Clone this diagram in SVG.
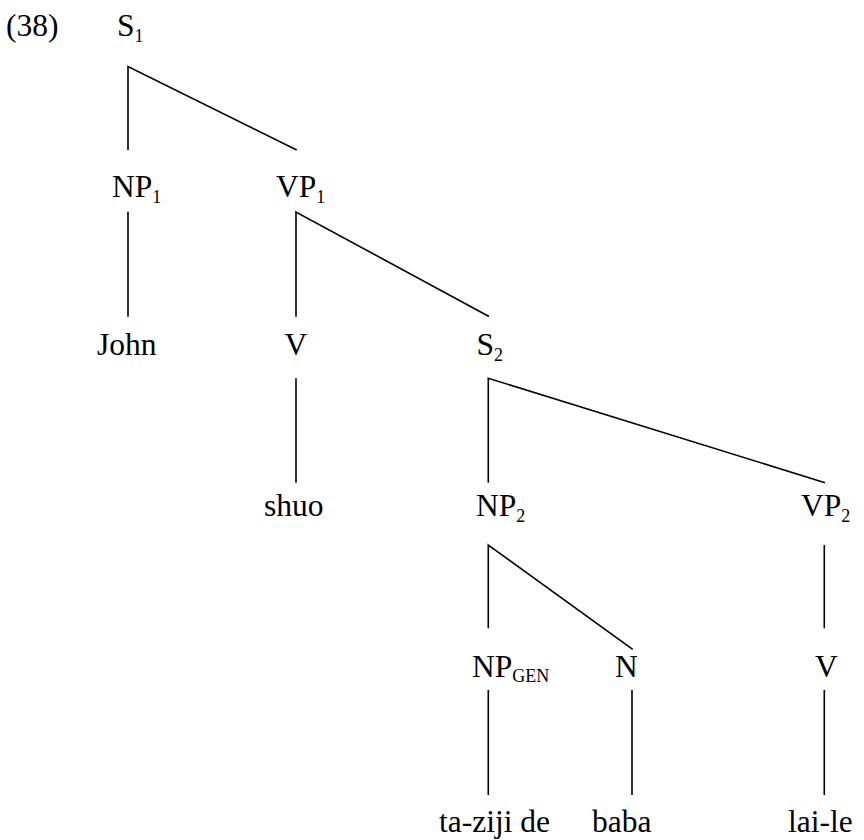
<svg xmlns="http://www.w3.org/2000/svg" width="864" height="840" viewBox="0 0 864 840">
  <style>
    text { font-family: "Liberation Serif", "Times New Roman", serif; font-size: 31.5px; fill: #000; }
    .sub { font-size: 18px; }
    .edge { stroke: #000; stroke-width: 1.6; fill: none; stroke-linecap: butt; stroke-linejoin: miter; }
  </style>
  <rect width="864" height="840" fill="#fff"/>

  <!-- example number -->
  <text id="ex-num" x="6" y="36">(38)</text>

  <!-- tree nodes -->
  <g id="S1"><text x="117" y="36">S<tspan class="sub" dy="6">1</tspan></text></g>
  <g id="NP1"><text x="112" y="197">NP<tspan class="sub" dy="6">1</tspan></text></g>
  <g id="VP1"><text x="276" y="197">VP<tspan class="sub" dy="6">1</tspan></text></g>
  <g id="John"><text x="97" y="355">John</text></g>
  <g id="V1"><text x="284.5" y="355">V</text></g>
  <g id="S2"><text x="476.5" y="355">S<tspan class="sub" dy="6">2</tspan></text></g>
  <g id="shuo"><text x="264" y="516">shuo</text></g>
  <g id="NP2"><text x="476" y="516">NP<tspan class="sub" dy="6">2</tspan></text></g>
  <g id="VP2"><text x="801" y="516">VP<tspan class="sub" dy="6">2</tspan></text></g>
  <g id="NPGEN"><text x="472" y="677">NP<tspan class="sub" dy="5">GEN</tspan></text></g>
  <g id="N"><text x="615" y="677">N</text></g>
  <g id="V2"><text x="815" y="677">V</text></g>
  <g id="taziji"><text x="439" y="832">ta-ziji de</text></g>
  <g id="baba"><text x="592" y="832">baba</text></g>
  <g id="laile"><text x="788" y="832">lai-le</text></g>

  <!-- branches -->
  <g id="connectors" class="edge">
    <polyline points="128,150 128,66.5 296.7,150"/>
    <line x1="128" y1="211.7" x2="128" y2="316.7"/>
    <polyline points="296,316.7 296,212 489,316.5"/>
    <line x1="296" y1="378.3" x2="296" y2="482.7"/>
    <polyline points="488.3,482.7 488.3,378.3 825,482.7"/>
    <polyline points="488.3,628.3 488.3,545 632.7,649.3"/>
    <line x1="824.3" y1="545" x2="824.3" y2="628.3"/>
    <line x1="488.3" y1="690" x2="488.3" y2="795"/>
    <line x1="632" y1="690" x2="632" y2="795"/>
    <line x1="824.3" y1="690" x2="824.3" y2="795"/>
  </g>
</svg>
